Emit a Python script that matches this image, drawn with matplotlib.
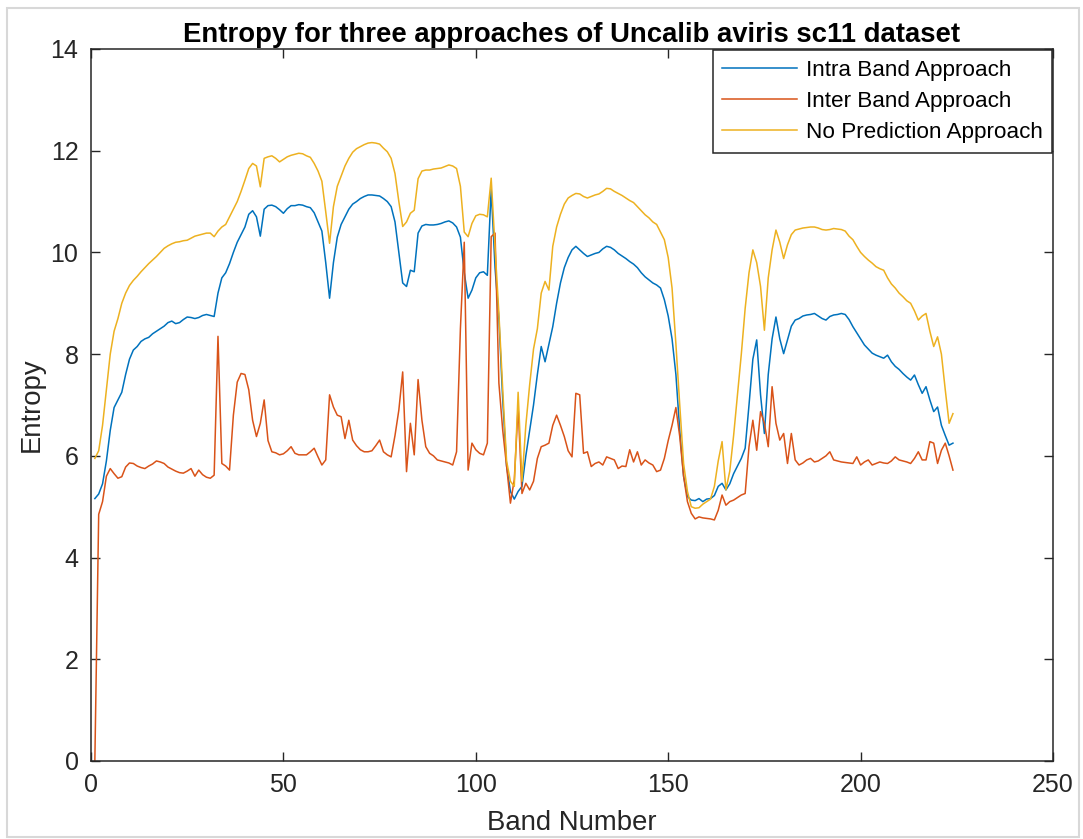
import numpy as np
import matplotlib
matplotlib.use('Agg')
import matplotlib.pyplot as plt
from matplotlib.patches import Rectangle

plt.rcParams['font.family'] = ['Liberation Sans', 'DejaVu Sans']

# band numbers 1..224
bands = np.arange(1, 225)

# Intra Band Approach (blue)
intra = [
    5.16, 5.25, 5.45, 5.90, 6.50, 6.95, 7.10, 7.25, 7.60, 7.90,
    8.08, 8.15, 8.25, 8.30, 8.33, 8.40, 8.45, 8.50, 8.55, 8.62,
    8.65, 8.60, 8.62, 8.68, 8.73, 8.72, 8.70, 8.72, 8.76, 8.78,
    8.76, 8.74, 9.20, 9.50, 9.60, 9.78, 10.00, 10.20, 10.35, 10.50,
    10.75, 10.82, 10.70, 10.32, 10.85, 10.92, 10.93, 10.90, 10.84, 10.77,
    10.86, 10.92, 10.92, 10.94, 10.93, 10.90, 10.88, 10.78, 10.60, 10.42,
    9.80, 9.10, 9.80, 10.30, 10.55, 10.70, 10.85, 10.95, 11.00, 11.06,
    11.10, 11.13, 11.13, 11.12, 11.11, 11.06, 11.00, 10.90, 10.60, 10.00,
    9.40, 9.33, 9.65, 9.62, 10.38, 10.52, 10.55, 10.54, 10.54, 10.55,
    10.57, 10.60, 10.62, 10.58, 10.50, 10.30, 9.60, 9.10, 9.26, 9.50,
    9.60, 9.62, 9.55, 11.25, 9.70, 8.70, 7.10, 5.80, 5.30, 5.15,
    5.30, 5.40, 6.00, 6.50, 7.00, 7.60, 8.15, 7.85, 8.20, 8.54,
    9.00, 9.40, 9.70, 9.90, 10.05, 10.12, 10.05, 9.98, 9.92, 9.95,
    9.98, 10.00, 10.07, 10.12, 10.10, 10.05, 9.98, 9.93, 9.88, 9.82,
    9.77, 9.70, 9.60, 9.52, 9.46, 9.40, 9.36, 9.30, 9.07, 8.75,
    8.30, 7.60, 6.50, 5.60, 5.20, 5.13, 5.12, 5.16, 5.10, 5.15,
    5.16, 5.22, 5.40, 5.46, 5.33, 5.45, 5.65, 5.80, 5.95, 6.15,
    7.00, 7.90, 8.28, 7.20, 6.44, 7.60, 8.30, 8.73, 8.30, 8.01,
    8.28, 8.55, 8.67, 8.70, 8.75, 8.77, 8.78, 8.80, 8.75, 8.70,
    8.67, 8.74, 8.77, 8.78, 8.80, 8.78, 8.68, 8.54, 8.42, 8.30,
    8.18, 8.10, 8.02, 7.98, 7.95, 7.92, 7.98, 7.85, 7.76, 7.70,
    7.62, 7.55, 7.49, 7.59, 7.40, 7.23, 7.36, 7.10, 6.87, 6.96,
    6.60, 6.40, 6.21, 6.25,
]

# Inter Band Approach (orange)
inter = [
    0.00, 4.85, 5.10, 5.60, 5.75, 5.65, 5.56, 5.59, 5.78, 5.86,
    5.85, 5.80, 5.77, 5.75, 5.80, 5.84, 5.90, 5.88, 5.85, 5.78,
    5.74, 5.70, 5.67, 5.66, 5.70, 5.75, 5.60, 5.72, 5.63, 5.58,
    5.56, 5.62, 8.35, 5.85, 5.80, 5.72, 6.80, 7.45, 7.62, 7.60,
    7.30, 6.70, 6.38, 6.64, 7.10, 6.30, 6.08, 6.06, 6.02, 6.04,
    6.10, 6.18, 6.05, 6.02, 6.02, 6.02, 6.08, 6.15, 5.98, 5.82,
    5.92, 7.20, 6.96, 6.80, 6.77, 6.34, 6.70, 6.31, 6.20, 6.12,
    6.08, 6.08, 6.10, 6.20, 6.31, 6.08, 6.02, 5.98, 6.40, 6.90,
    7.65, 5.69, 6.64, 6.02, 7.50, 6.70, 6.18, 6.05, 6.00, 5.92,
    5.90, 5.88, 5.86, 5.82, 6.08, 8.50, 10.20, 5.72, 6.25, 6.12,
    6.05, 6.02, 6.25, 10.31, 10.38, 7.43, 6.50, 5.80, 5.07, 5.53,
    6.96, 5.26, 5.46, 5.33, 5.50, 5.95, 6.18, 6.21, 6.25, 6.60,
    6.80, 6.60, 6.38, 6.10, 5.98, 7.23, 7.20, 6.05, 6.08, 5.79,
    5.85, 5.88, 5.82, 5.98, 5.95, 5.92, 5.75, 5.80, 5.79, 6.12,
    5.88, 6.08, 5.82, 5.92, 5.86, 5.82, 5.69, 5.72, 5.95, 6.30,
    6.60, 6.95, 6.38, 5.60, 5.10, 4.87, 4.76, 4.80, 4.78, 4.77,
    4.76, 4.74, 4.93, 5.23, 5.03, 5.10, 5.13, 5.18, 5.23, 5.26,
    6.18, 6.70, 6.11, 6.87, 6.64, 6.18, 7.36, 6.64, 6.31, 6.44,
    5.85, 6.44, 5.92, 5.82, 5.86, 5.92, 5.95, 5.88, 5.90, 5.95,
    6.00, 6.08, 5.92, 5.90, 5.88, 5.87, 5.86, 5.85, 5.98, 5.82,
    5.88, 5.92, 5.82, 5.85, 5.88, 5.86, 5.85, 5.90, 5.98, 5.92,
    5.90, 5.88, 5.85, 5.95, 6.08, 5.92, 5.92, 6.28, 6.25, 5.85,
    6.11, 6.25, 6.00, 5.72,
]

# No Prediction Approach (yellow)
no_pred = [
    5.95, 6.10, 6.60, 7.30, 8.00, 8.45, 8.70, 9.00, 9.20, 9.35,
    9.45, 9.53, 9.62, 9.70, 9.78, 9.85, 9.92, 10.00, 10.08, 10.13,
    10.17, 10.20, 10.21, 10.23, 10.24, 10.28, 10.32, 10.34, 10.36, 10.38,
    10.38, 10.31, 10.42, 10.50, 10.55, 10.70, 10.85, 11.00, 11.20, 11.42,
    11.65, 11.75, 11.70, 11.29, 11.85, 11.88, 11.90, 11.85, 11.78, 11.83,
    11.88, 11.91, 11.93, 11.95, 11.94, 11.90, 11.87, 11.75, 11.60, 11.40,
    10.80, 10.18, 10.90, 11.30, 11.50, 11.70, 11.85, 11.97, 12.04, 12.08,
    12.12, 12.15, 12.16, 12.15, 12.13, 12.05, 11.98, 11.85, 11.55, 11.00,
    10.51, 10.60, 10.77, 10.83, 11.45, 11.60, 11.62, 11.62, 11.64, 11.65,
    11.66, 11.69, 11.72, 11.70, 11.65, 11.30, 10.40, 10.31, 10.57, 10.72,
    10.75, 10.74, 10.70, 11.46, 10.10, 8.80, 7.30, 5.90, 5.50, 5.40,
    7.25, 5.50, 6.60, 7.40, 8.10, 8.50, 9.20, 9.43, 9.26, 10.12,
    10.50, 10.75, 10.95, 11.07, 11.12, 11.16, 11.15, 11.10, 11.07, 11.10,
    11.13, 11.15, 11.20, 11.26, 11.25, 11.20, 11.16, 11.12, 11.07, 11.02,
    10.98, 10.90, 10.82, 10.74, 10.68, 10.60, 10.55, 10.40, 10.25, 9.90,
    9.30, 8.20, 7.00, 5.85, 5.30, 5.00, 4.97, 4.98, 5.05, 5.10,
    5.15, 5.40, 5.90, 6.28, 5.33, 5.70, 6.40, 7.20, 8.00, 8.90,
    9.60, 10.05, 9.80, 9.33, 8.47, 9.50, 10.05, 10.44, 10.20, 9.88,
    10.15, 10.35, 10.44, 10.46, 10.48, 10.49, 10.50, 10.50, 10.48, 10.45,
    10.44, 10.45, 10.47, 10.46, 10.45, 10.42, 10.32, 10.25, 10.12, 10.00,
    9.92, 9.85, 9.79, 9.72, 9.68, 9.65, 9.50, 9.38, 9.30, 9.20,
    9.13, 9.05, 9.00, 8.85, 8.67, 8.75, 8.80, 8.45, 8.15, 8.34,
    8.00, 7.30, 6.64, 6.83,
]

labels = ['Intra Band Approach', 'Inter Band Approach', 'No Prediction Approach']
colors = ['#0072BD', '#D95319', '#EDB120']
dark = '#262626'

fig = plt.figure(figsize=(10.83, 8.39), dpi=100)
ax = fig.add_axes([91 / 1083, 78 / 839, 962 / 1083, 712 / 839])

for series, lab, col in zip([intra, inter, no_pred], labels, colors):
    ax.plot(bands, series, color=col, linewidth=1.1, label=lab)

ax.set_xlim(0, 250)
ax.set_ylim(0, 14)
ax.set_xticks(np.arange(0, 251, 50))
ax.set_yticks(np.arange(0, 15, 2))
ax.tick_params(direction='in', length=6.5, width=1, top=True, right=True,
               labelsize=18, colors=dark, pad=9)
for sp in ax.spines.values():
    sp.set_color(dark)
    sp.set_linewidth(1.1)

ax.set_xlabel('Band Number', fontsize=19.8, color=dark, labelpad=9)
ax.set_ylabel('Entropy', fontsize=19.8, color=dark, labelpad=4)
ax.set_title('Entropy for three approaches of Uncalib aviris sc11 dataset',
             fontsize=19.8, fontweight='bold', color='black', pad=5)

leg = ax.legend(loc='upper right', fontsize=16.2, frameon=True, fancybox=False,
                framealpha=1, edgecolor=dark, borderaxespad=0.05,
                handlelength=3.3, handletextpad=0.4, labelspacing=0.46,
                borderpad=0.42)
leg.get_frame().set_linewidth(1.1)

# light grey frame around the whole picture
fig.patches.append(Rectangle((7 / 1083, 2 / 839), 1072 / 1083, 829 / 839,
                             transform=fig.transFigure, fill=False,
                             edgecolor='#d8d8d8', linewidth=1.5))

fig.savefig('out.png', dpi=100)
